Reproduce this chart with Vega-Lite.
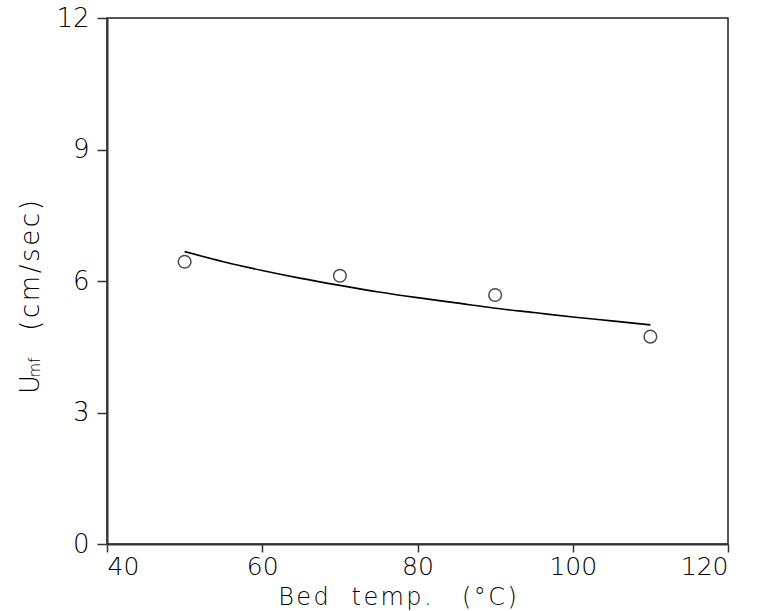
{
  "$schema": "https://vega.github.io/schema/vega-lite/v6.json",
  "width": 621,
  "height": 526,
  "autosize": {"type": "none"},
  "padding": {"left": 107, "top": 18, "right": 30, "bottom": 67},
  "background": "white",
  "config": {
    "view": {"stroke": "#222", "strokeWidth": 1.5},
    "font": "DejaVu Sans"
  },
  "datasets": {
    "obs": [
      {"temp": 50, "umf": 6.44},
      {"temp": 70, "umf": 6.12},
      {"temp": 90, "umf": 5.68},
      {"temp": 110, "umf": 4.73}
    ],
    "fit": [
      {"temp": 50, "umf": 6.67},
      {"temp": 55, "umf": 6.44},
      {"temp": 60, "umf": 6.24},
      {"temp": 65, "umf": 6.06},
      {"temp": 70, "umf": 5.90},
      {"temp": 75, "umf": 5.75},
      {"temp": 80, "umf": 5.62},
      {"temp": 85, "umf": 5.50},
      {"temp": 90, "umf": 5.38},
      {"temp": 95, "umf": 5.28},
      {"temp": 100, "umf": 5.18},
      {"temp": 105, "umf": 5.09},
      {"temp": 110, "umf": 5.00}
    ]
  },
  "layer": [
    {
      "data": {"name": "fit"},
      "mark": {"type": "line", "color": "black", "strokeWidth": 1.6, "interpolate": "monotone"},
      "encoding": {
        "x": {
          "field": "temp", "type": "quantitative",
          "scale": {"domain": [40, 120], "nice": false, "zero": false},
          "axis": {
            "values": [40, 60, 80, 100, 120],
            "title": "B\u200ae\u200ad\u00a0\u00a0\u00a0t\u200ae\u200am\u200ap\u200a.\u00a0\u00a0\u00a0\u00a0(\u200a°\u200aC\u200a)",
            "grid": false,
            "domainColor": "#333", "domainWidth": 2,
            "tickColor": "#333", "tickWidth": 1.5, "tickSize": 8,
            "labelPadding": 2, "labelFontSize": 25, "labelFontWeight": 200, "labelColor": "black",
            "labelFont": "DejaVu Sans",
            "titleFont": "DejaVu Sans", "titleFontSize": 24, "titleFontWeight": 200, "titleColor": "black",
            "titleX": 290, "titleY": 60, "titleBaseline": "alphabetic", "titleAlign": "center"
          }
        },
        "y": {
          "field": "umf", "type": "quantitative",
          "scale": {"domain": [0, 12], "nice": false},
          "axis": {
            "values": [0, 3, 6, 9, 12],
            "title": "(\u200ac\u200am\u200a/\u200as\u200ae\u200ac\u200a)",
            "grid": false,
            "domainColor": "#333", "domainWidth": 2,
            "tickColor": "#333", "tickWidth": 1.5, "tickSize": 10,
            "labelPadding": 8, "labelFontSize": 26, "labelFontWeight": 200, "labelColor": "black",
            "labelFont": "DejaVu Sans",
            "titleFont": "DejaVu Sans", "titleFontSize": 26, "titleFontWeight": 200, "titleColor": "black",
            "titleX": -69, "titleY": 247, "titleBaseline": "alphabetic", "titleAlign": "center", "titleAngle": -90
          }
        }
      }
    },
    {
      "data": {"name": "obs"},
      "mark": {"type": "point", "shape": "circle", "filled": false, "color": "black", "strokeWidth": 1.5, "size": 160},
      "encoding": {
        "x": {"field": "temp", "type": "quantitative"},
        "y": {
          "field": "umf", "type": "quantitative",
          "axis": {
            "orient": "left",
            "title": "U",
            "labels": false, "ticks": false, "domain": false, "grid": false,
            "titleFont": "DejaVu Sans", "titleFontSize": 26, "titleFontWeight": 200, "titleColor": "black",
            "titleX": -69, "titleY": 366, "titleBaseline": "alphabetic", "titleAlign": "center", "titleAngle": -90
          }
        }
      }
    },
    {
      "data": {"name": "obs"},
      "mark": {"type": "point", "opacity": 0, "size": 1},
      "encoding": {
        "x": {"field": "temp", "type": "quantitative"},
        "y": {
          "field": "umf", "type": "quantitative",
          "axis": {
            "orient": "left",
            "title": "mf",
            "labels": false, "ticks": false, "domain": false, "grid": false,
            "titleFont": "DejaVu Sans", "titleFontSize": 15, "titleFontWeight": 200, "titleColor": "black",
            "titleX": -68, "titleY": 349, "titleBaseline": "alphabetic", "titleAlign": "center", "titleAngle": -90
          }
        }
      }
    }
  ],
  "resolve": {"axis": {"y": "independent"}}
}
